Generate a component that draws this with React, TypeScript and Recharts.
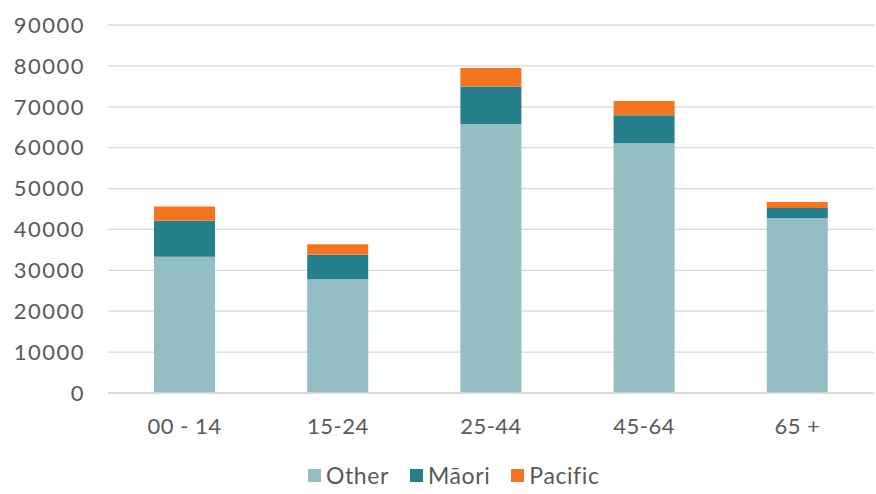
import React from "react";
import {
  BarChart,
  Bar,
  XAxis,
  YAxis,
  CartesianGrid,
  Legend,
} from "recharts";

// age bands and population by group
const ageBands = ["00 - 14", "15-24", "25-44", "45-64", "65 +"];
const other = [33300, 27800, 65800, 61100, 42800];
const maori = [8800, 6000, 9150, 6800, 2450];
const pacific = [3500, 2600, 4550, 3500, 1450];
const yTicks = [0, 10000, 20000, 30000, 40000, 50000, 60000, 70000, 80000, 90000];

const series = [
  { key: "other", name: "Other", color: "#93BEC4" },
  { key: "maori", name: "Māori", color: "#247E8C" },
  { key: "pacific", name: "Pacific", color: "#F47421" },
];

const data = ageBands.map((band, i) => ({
  band,
  other: other[i],
  maori: maori[i],
  pacific: pacific[i],
}));

const FONT = "Lato, 'Open Sans', sans-serif";
const TEXT = "#595959";

function XTick(props: any) {
  const { x, y, payload } = props;
  return (
    <text
      x={x}
      y={y + 33}
      textAnchor="middle"
      fill={TEXT}
      fontSize={22}
      fontFamily={FONT}
      letterSpacing={0.5}
    >
      {payload.value}
    </text>
  );
}

function LegendBox() {
  return (
    <div
      style={{
        height: 40,
        display: "flex",
        justifyContent: "flex-start",
        alignItems: "center",
        fontFamily: FONT,
        fontSize: 23,
        letterSpacing: 0.6,
        color: TEXT,
        paddingLeft: 308,
        paddingTop: 2,
        boxSizing: "border-box",
      }}
    >
      {series.map((s) => (
        <span
          key={s.key}
          style={{ display: "flex", alignItems: "center", marginRight: 21 }}
        >
          <span
            style={{
              width: 13,
              height: 13,
              background: s.color,
              display: "inline-block",
              marginRight: 5,
            }}
          />
          {s.name}
        </span>
      ))}
    </div>
  );
}

export default function App() {
  return (
    <div style={{ position: "absolute", left: 0, top: 0, background: "#fff" }}>
      <BarChart
        width={876}
        height={494}
        data={data}
        margin={{ top: 25, right: 2, left: 0, bottom: 0 }}
      >
        <CartesianGrid vertical={false} stroke="#D9D9D9" strokeWidth={1.3} />
        <XAxis
          dataKey="band"
          height={61}
          tick={<XTick />}
          tickLine={false}
          axisLine={{ stroke: "#D9D9D9", strokeWidth: 1.3 }}
        />
        <YAxis
          width={108}
          domain={[0, 90000]}
          ticks={yTicks}
          axisLine={false}
          tickLine={false}
          tickSize={0}
          tickMargin={23}
          tick={{ fill: TEXT, fontSize: 22, fontFamily: FONT, letterSpacing: 1.5 }}
        />
        <Legend verticalAlign="bottom" height={40} content={<LegendBox />} />
        {series.map((s) => (
          <Bar
            key={s.key}
            dataKey={s.key}
            name={s.name}
            stackId="a"
            fill={s.color}
            barSize={61}
            isAnimationActive={false}
          />
        ))}
      </BarChart>
    </div>
  );
}
